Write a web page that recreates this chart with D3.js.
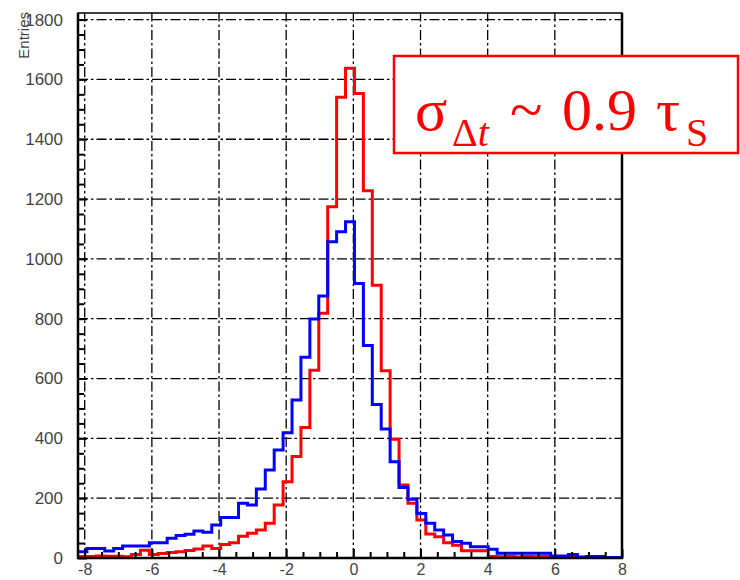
<!DOCTYPE html>
<html>
<head>
<meta charset="utf-8">
<script src="https://cdn.jsdelivr.net/npm/d3@7"></script>
<style>
  body { margin: 0; background: #fff; }
  svg { display: block; }
</style>
</head>
<body>
<svg width="740" height="580"></svg>
<script>
// histogram range and bin contents (61 bins)
var binLow = -8.2;
var binHigh = 8;
var redCounts = [5, 5, 7, 6, 6, 4, 12, 26, 12, 15, 18, 21, 25, 30, 40, 32, 45, 51, 73, 83,
  94, 116, 177, 255, 339, 436, 628, 818, 1174, 1540, 1637, 1553, 1228, 912, 626, 397, 244, 183, 127, 80,
  71, 51, 43, 24, 24, 24, 5, 4, 6, 3, 5, 4, 6, 3, 2, 4, 2, 1, 2, 1, 1];
var blueCounts = [21, 32, 32, 23, 32, 40, 40, 40, 51, 51, 66, 75, 79, 90, 86, 110, 135, 135, 183, 177,
  231, 294, 361, 419, 528, 671, 799, 876, 1057, 1091, 1124, 918, 710, 513, 431, 322, 236, 196, 149, 116,
  94, 77, 55, 49, 38, 38, 29, 16, 16, 16, 16, 16, 16, 7, 7, 12, 3, 5, 5, 2, 2];
var xTicks = [-8, -6, -4, -2, 0, 2, 4, 6, 8];
var xMinorTicks = [-7.5, -7, -6.5, -5.5, -5, -4.5, -3.5, -3, -2.5, -1.5, -1, -0.5,
  0.5, 1, 1.5, 2.5, 3, 3.5, 4.5, 5, 5.5, 6.5, 7, 7.5];
var yTicks = [0, 200, 400, 600, 800, 1000, 1200, 1400, 1600, 1800];
var yMinorTicks = [50, 100, 150, 250, 300, 350, 450, 500, 550, 650, 700, 750, 850, 900, 950,
  1050, 1100, 1150, 1250, 1300, 1350, 1450, 1500, 1550, 1650, 1700, 1750];
var yMax = 1822;

var frameL = 78, frameR = 622, frameT = 13, frameB = 558;

var svg = d3.select("svg");
svg.append("rect").attr("width", 740).attr("height", 580).attr("fill", "#fff");

var x = d3.scaleLinear().domain([binLow, binHigh]).range([frameL, frameR]);
var y = d3.scaleLinear().domain([0, yMax]).range([frameB, frameT]);

// grid
var grid = svg.append("g")
  .attr("stroke", "#000")
  .attr("stroke-width", 1.3)
  .attr("stroke-dasharray", "10,3,2.5,3");
grid.selectAll(".vg").data(xTicks).enter().append("line")
  .attr("x1", d => x(d)).attr("x2", d => x(d))
  .attr("y1", frameB).attr("y2", frameT);
grid.selectAll(".hg").data(yTicks.slice(1)).enter().append("line")
  .attr("x1", frameL).attr("x2", frameR)
  .attr("y1", d => y(d)).attr("y2", d => y(d));

// histograms
svg.append("clipPath").attr("id", "frame")
  .append("rect").attr("x", frameL).attr("y", frameT)
  .attr("width", frameR - frameL).attr("height", frameB - frameT);

var binWidth = (binHigh - binLow) / redCounts.length;
function steps(counts) {
  var pts = [];
  counts.forEach(function (c, i) {
    pts.push([binLow + i * binWidth, c]);
    pts.push([binLow + (i + 1) * binWidth, c]);
  });
  return pts;
}
var line = d3.line().x(d => x(d[0])).y(d => y(d[1]));

svg.append("path")
  .attr("d", line(steps(redCounts)))
  .attr("fill", "none")
  .attr("stroke", "#ff0000")
  .attr("stroke-width", 3)
  .attr("clip-path", "url(#frame)");
svg.append("path")
  .attr("d", line(steps(blueCounts)))
  .attr("fill", "none")
  .attr("stroke", "#0000ff")
  .attr("stroke-width", 3)
  .attr("clip-path", "url(#frame)");

// axes
var font = "'Liberation Sans', Arial, Helvetica, sans-serif";

var yAxis = d3.axisLeft(y).tickValues(yTicks).tickSizeInner(-9).tickSizeOuter(0).tickPadding(15)
  .tickFormat(d => String(d));
svg.append("g").attr("class", "yax").attr("transform", "translate(" + frameL + ",0)").call(yAxis);
var yMinor = d3.axisLeft(y).tickValues(yMinorTicks).tickSizeInner(-6).tickSizeOuter(0).tickFormat("");
svg.append("g").attr("transform", "translate(" + frameL + ",0)").call(yMinor);

var xAxis = d3.axisBottom(x).tickValues(xTicks).tickSizeInner(-9).tickSizeOuter(0).tickPadding(6)
  .tickFormat(d => String(d));
svg.append("g").attr("class", "xax").attr("transform", "translate(0," + frameB + ")").call(xAxis);
var xMinor = d3.axisBottom(x).tickValues(xMinorTicks).tickSizeInner(-6).tickSizeOuter(0).tickFormat("");
svg.append("g").attr("transform", "translate(0," + frameB + ")").call(xMinor);

svg.selectAll(".tick line").attr("stroke", "#000").attr("stroke-width", 2);
svg.selectAll(".domain").attr("stroke", "none");
svg.selectAll(".tick text")
  .attr("fill", "#444")
  .style("font-family", font)
  .style("font-size", "17px");
svg.selectAll(".xax .tick text").style("font-size", "16px");

// frame
svg.append("rect")
  .attr("x", frameL).attr("y", frameT)
  .attr("width", frameR - frameL).attr("height", frameB - frameT)
  .attr("fill", "none").attr("stroke", "#000").attr("stroke-width", 1.5);
svg.append("path")
  .attr("d", "M" + frameL + "," + frameT + "V" + frameB + "H" + frameR + "V" + frameT)
  .attr("fill", "none").attr("stroke", "#000").attr("stroke-width", 2.5);

// y title
svg.append("text")
  .attr("transform", "translate(29,12) rotate(-90)")
  .attr("text-anchor", "end")
  .attr("fill", "#444")
  .style("font-family", font)
  .style("font-size", "15px")
  .text("Entries");

// annotation box
svg.append("rect")
  .attr("x", 394).attr("y", 56).attr("width", 344).attr("height", 97)
  .attr("fill", "#fff").attr("stroke", "#ff0000").attr("stroke-width", 2.5);

var label = svg.append("text")
  .attr("fill", "#ff0000")
  .style("font-family", "'Liberation Serif', 'Times New Roman', serif");
label.append("tspan").attr("x", 415).attr("y", 130).style("font-size", "60px").text("σ");
label.append("tspan").attr("x", 452).attr("y", 146).style("font-size", "40px").text("Δ");
label.append("tspan").style("font-size", "40px").style("font-style", "italic").text("t");
label.append("tspan").attr("x", 510).attr("y", 130).style("font-size", "60px").text("~");
label.append("tspan").attr("x", 562).attr("y", 130).style("font-size", "60px").text("0.9");
label.append("tspan").attr("x", 656).attr("y", 130).style("font-size", "60px").text("τ");
label.append("tspan").attr("x", 686).attr("y", 146).style("font-size", "40px").text("S");
</script>
</body>
</html>
